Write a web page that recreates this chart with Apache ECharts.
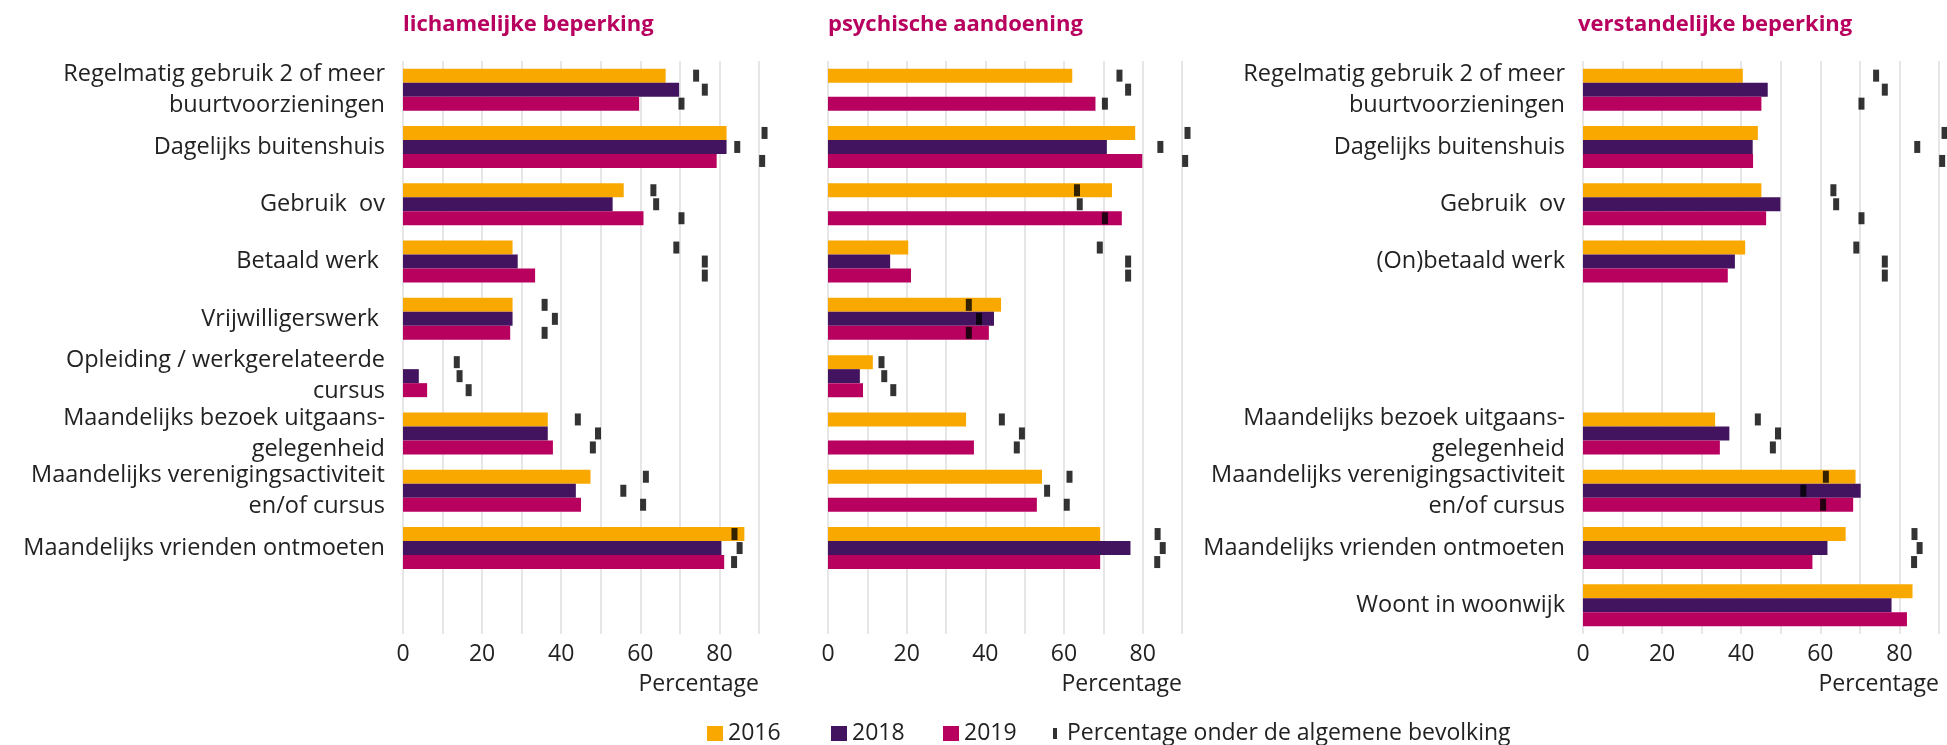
<!DOCTYPE html>
<html>
<head>
<meta charset="utf-8">
<script src="https://cdn.jsdelivr.net/npm/echarts@6/dist/echarts.min.js"></script>
<style>
html,body{margin:0;padding:0;background:#fff;}
#chart{width:1947px;height:745px;}
</style>
</head>
<body>
<div id="chart"></div>
<script>
// ---- data ----
const panelTitles = ['lichamelijke beperking', 'psychische aandoening', 'verstandelijke beperking'];
const categoriesLeft = [
  'Regelmatig gebruik 2 of meer\nbuurtvoorzieningen',
  'Dagelijks buitenshuis',
  'Gebruik  ov',
  'Betaald werk ',
  'Vrijwilligerswerk ',
  'Opleiding / werkgerelateerde\ncursus',
  'Maandelijks bezoek uitgaans-\ngelegenheid',
  'Maandelijks verenigingsactiviteit\nen/of cursus',
  'Maandelijks vrienden ontmoeten',
  ''
];
const categoriesRight = [
  'Regelmatig gebruik 2 of meer\nbuurtvoorzieningen',
  'Dagelijks buitenshuis',
  'Gebruik  ov',
  '(On)betaald werk',
  '',
  '',
  'Maandelijks bezoek uitgaans-\ngelegenheid',
  'Maandelijks verenigingsactiviteit\nen/of cursus',
  'Maandelijks vrienden ontmoeten',
  'Woont in woonwijk'
];
const years = ['2016', '2018', '2019'];
const xTicks = [0, 20, 40, 60, 80];
const genLabel = 'Percentage onder de algemene bevolking';

const lich2016 = [66.4, 81.8, 55.8, 27.7, 27.7, null, 36.6, 47.4, 86.3, null];
const lich2018 = [69.8, 81.8, 53.0, 29.0, 27.7, 4.0, 36.6, 43.7, 80.5, null];
const lich2019 = [59.7, 79.3, 60.8, 33.4, 27.1, 6.1, 37.9, 45.0, 81.2, null];

const psy2016 = [62.1, 78.1, 72.2, 20.4, 44.0, 11.4, 35.1, 54.4, 69.2, null];
const psy2018 = [null, 70.9, null, 15.8, 42.2, 8.1, null, null, 76.9, null];
const psy2019 = [68.0, 79.9, 74.7, 21.1, 40.9, 8.9, 37.1, 53.1, 69.2, null];

const ver2016 = [40.4, 44.2, 45.1, 41.0, null, null, 33.4, 68.9, 66.4, 83.3];
const ver2018 = [46.7, 42.9, 49.9, 38.4, null, null, 37.0, 70.2, 61.8, 78.0];
const ver2019 = [45.1, 43.0, 46.3, 36.6, null, null, 34.6, 68.3, 58.0, 81.9];

// percentage among the general population
const gen2016 = [74.1, 91.4, 63.3, 69.1, 35.8, 13.6, 44.2, 61.4, 83.8, null];
const gen2018 = [76.3, 84.5, 64.0, 76.3, 38.4, 14.3, 49.3, 55.7, 85.1, null];
const gen2019 = [70.4, 90.8, 70.4, 76.3, 35.8, 16.6, 48.0, 60.7, 83.7, null];
const verGen2016 = [74.1, 91.4, 63.3, 69.1, null, null, 44.2, 61.4, 83.8, null];
const verGen2018 = [76.3, 84.5, 64.0, 76.3, null, null, 49.3, 55.7, 85.1, null];
const verGen2019 = [70.4, 90.8, 70.4, 76.3, null, null, 48.0, 60.7, 83.7, null];

// ---- styling ----
const FONT = 'Open Sans';
const TEXT = '#222222';
const colors = { '2016': '#f9a800', '2018': '#42145f', '2019': '#b8005e' };
const titleColor = '#b8005e';
const BAR = 14;

const panels = [
  { left: 403, width: 356, labels: categoriesLeft, showLabels: true, bars: [lich2016, lich2018, lich2019], gen: [gen2016, gen2018, gen2019], titleLeft: 403 },
  { left: 828, width: 354, labels: categoriesLeft, showLabels: false, bars: [psy2016, psy2018, psy2019], gen: [gen2016, gen2018, gen2019], titleLeft: 828 },
  { left: 1583, width: 356, labels: categoriesRight, showLabels: true, bars: [ver2016, ver2018, ver2019], gen: [verGen2016, verGen2018, verGen2019], titleLeft: 1578 }
];

const grid = [], xAxis = [], yAxis = [], series = [], title = [];
panels.forEach((p, k) => {
  grid.push({ left: p.left, width: p.width, top: 61, height: 573, containLabel: false });
  title.push({
    text: panelTitles[k], left: p.titleLeft, top: 14, padding: 0,
    textStyle: { fontFamily: FONT, fontSize: 22, fontWeight: 'bold', color: titleColor }
  });
  xAxis.push({
    type: 'value', gridIndex: k, min: 0, max: 90, interval: 10,
    axisLine: { show: false }, axisTick: { show: false },
    splitLine: { show: true, lineStyle: { color: '#e6e6e6', width: 2 } },
    axisLabel: {
      margin: 9, fontFamily: FONT, fontSize: 23, color: TEXT,
      formatter: v => (xTicks.indexOf(v) >= 0 ? String(v) : '')
    },
    name: 'Percentage', nameLocation: 'end', nameGap: 0,
    nameTextStyle: { fontFamily: FONT, fontSize: 23, color: TEXT, align: 'right', verticalAlign: 'top', padding: [39, 0, 0, 0] }
  });
  yAxis.push({
    type: 'category', gridIndex: k, inverse: true, data: p.labels,
    axisLine: { show: false }, axisTick: { show: false }, splitLine: { show: false },
    axisLabel: { show: p.showLabels, interval: 0, margin: 18, fontFamily: FONT, fontSize: 23.5, color: TEXT, lineHeight: 31 }
  });
  years.forEach((y, j) => {
    series.push({
      type: 'bar', name: y, xAxisIndex: k, yAxisIndex: k,
      data: p.bars[j], barWidth: BAR, barGap: '0%',
      itemStyle: { color: colors[y] }, z: 2, animation: false
    });
  });
  years.forEach((y, j) => {
    const d = [];
    p.gen[j].forEach((v, i) => { if (v != null) d.push([v, i]); });
    series.push({
      type: 'scatter', name: genLabel, xAxisIndex: k, yAxisIndex: k,
      data: d, symbol: 'rect', symbolSize: [6, 12], symbolOffset: [0, (j - 1) * BAR],
      itemStyle: { color: '#000000' }, clip: false, z: 5, animation: false
    });
  });
});

const legendBase = {
  top: 722, padding: 0, itemHeight: 15, itemWidth: 16, icon: 'rect',
  textStyle: { fontFamily: FONT, fontSize: 23, color: TEXT }, selectedMode: false
};
const legend = [
  Object.assign({}, legendBase, { left: 707, data: ['2016'] }),
  Object.assign({}, legendBase, { left: 831, data: ['2018'] }),
  Object.assign({}, legendBase, { left: 943, data: ['2019'] }),
  Object.assign({}, legendBase, { left: 1053, data: [genLabel], itemWidth: 4, itemHeight: 11, textStyle: { fontFamily: FONT, fontSize: 23, color: TEXT, padding: [0, 0, 0, 5] } })
];

const chart = echarts.init(document.getElementById('chart'), null, { renderer: 'canvas' });
chart.setOption({
  animation: false,
  backgroundColor: '#ffffff',
  title, grid, xAxis, yAxis, series, legend
});
</script>
</body>
</html>
